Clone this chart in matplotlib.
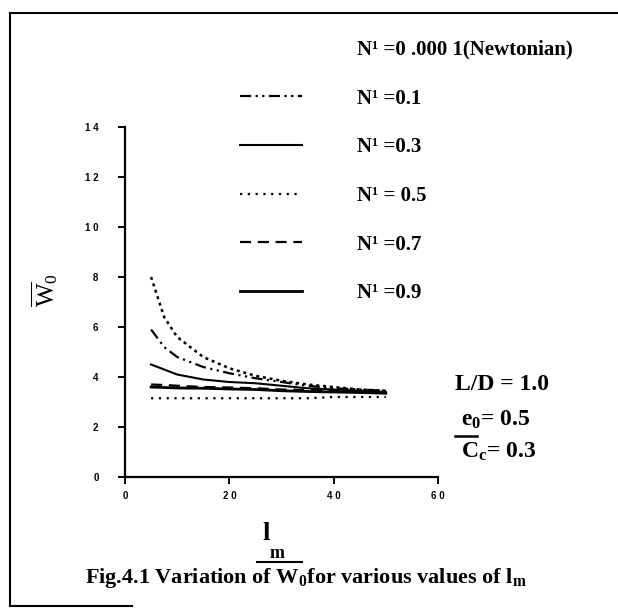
import matplotlib
matplotlib.use('Agg')
from matplotlib import pyplot as plt
from matplotlib.lines import Line2D

plt.rcParams['font.family'] = ['Liberation Serif', 'DejaVu Serif']
plt.rcParams['font.weight'] = 'bold'
plt.rcParams['mathtext.fontset'] = 'custom'
plt.rcParams['mathtext.rm'] = 'Liberation Serif:bold'
plt.rcParams['mathtext.it'] = 'Liberation Serif:bold'
plt.rcParams['mathtext.bf'] = 'Liberation Serif:bold'
plt.rcParams['mathtext.sf'] = 'Liberation Serif:normal'

# data
l_m = [5, 7.5, 10, 15, 20, 25, 30, 35, 40, 45, 50]
w_newtonian = [8.0, 6.4, 5.6, 4.8, 4.35, 4.05, 3.85, 3.7, 3.6, 3.5, 3.45]
w_01 = [5.9, 5.2, 4.8, 4.4, 4.15, 3.95, 3.8, 3.65, 3.55, 3.5, 3.45]
w_03 = [4.5, 4.3, 4.1, 3.9, 3.8, 3.75, 3.65, 3.55, 3.5, 3.45, 3.4]
w_05 = [3.15, 3.15, 3.15, 3.15, 3.15, 3.15, 3.15, 3.15, 3.2, 3.2, 3.2]
w_07 = [3.7, 3.68, 3.65, 3.6, 3.58, 3.55, 3.5, 3.48, 3.45, 3.42, 3.4]
w_09 = [3.6, 3.58, 3.56, 3.55, 3.52, 3.5, 3.45, 3.42, 3.4, 3.38, 3.35]

labels = ['N¹ =0 .000 1(Newtonian)', 'N¹ =0.1', 'N¹ =0.3',
          'N¹ = 0.5', 'N¹ =0.7', 'N¹ =0.9']
xticks = [0, 20, 40, 60]
xticklabels = ['0', '2 0', '4 0', '6 0']
yticks = [0, 2, 4, 6, 8, 10, 12, 14]
yticklabels = ['0', '2', '4', '6', '8', '1 0', '1 2', '1 4']

W, H = 618, 608
fig = plt.figure(figsize=(W / 100, H / 100), dpi=100)
ax = fig.add_axes([125 / W, 1 - 477 / H, (438 - 125) / W, (477 - 127) / H])

l_newt, = ax.plot(l_m, w_newtonian, color='black', lw=1.8, ls=(0, (1.2, 1.5)))
l1, = ax.plot(l_m, w_01, color='black', lw=1.6, ls=(0, (5, 2, 1, 2, 1, 2)))
l3, = ax.plot(l_m, w_03, color='black', lw=1.5, ls='-')
l5, = ax.plot(l_m, w_05, color='black', lw=1.6, ls=(0, (1, 2.5)))
l7, = ax.plot(l_m, w_07, color='black', lw=1.6, ls=(0, (5, 3)))
l9, = ax.plot(l_m, w_09, color='black', lw=2.0, ls='-')

ax.set_xlim(0, 60)
ax.set_ylim(0, 14)
for s in ['top', 'right']:
    ax.spines[s].set_visible(False)
for s in ['left', 'bottom']:
    ax.spines[s].set_linewidth(1.6)
ax.set_xticks(xticks)
ax.set_xticklabels(xticklabels)
ax.set_yticks(yticks)
ax.set_yticklabels(yticklabels)
ax.tick_params(direction='out', length=5, width=1.4, labelsize=7)
ax.tick_params(axis='y', pad=14)
ax.tick_params(axis='x', pad=5)
for t in ax.get_xticklabels() + ax.get_yticklabels():
    t.set_fontfamily('Liberation Sans')
    t.set_fontweight('bold')

blank = Line2D([], [], color='none')
fig.legend([blank, l1, l3, l5, l7, l9], labels, loc='upper left',
           bbox_to_anchor=(221 / W, 1 - 21 / H), frameon=False,
           fontsize=15, handlelength=3.0, handletextpad=2.65,
           labelspacing=1.38)

# y label
fig.text(45 / W, 1 - 290 / H, r'$\overline{\mathsf{W}}_{\mathsf{0}}$', rotation=90,
         ha='center', va='center', fontsize=18)

# x label
fig.text(266 / W, 1 - 534 / H, 'l', ha='center', va='center', fontsize=19)
fig.text(277 / W, 1 - 553 / H, 'm', ha='center', va='center', fontsize=13)
fig.add_artist(Line2D([257 / W, 302 / W], [1 - 562 / H, 1 - 562 / H],
                      color='black', lw=1.5))

# parameters
fig.text(455 / W, 1 - 385 / H, 'L/D = 1.0', ha='left', va='center', fontsize=17)
fig.text(461 / W, 1 - 420 / H, r'e$_0$= 0.5', ha='left', va='center', fontsize=17)
fig.add_artist(Line2D([455 / W, 477 / W], [1 - 436 / H, 1 - 436 / H],
                      color='black', lw=1.8))
fig.text(461 / W, 1 - 452 / H, r'C$_c$= 0.3', ha='left', va='center', fontsize=17)

# caption
fig.text(85 / W, 1 - 578 / H, r'Fig.4.1 Variation of W$_0$for various values of l$_m$',
         ha='left', va='center', fontsize=16)

# frame lines of the scanned page
fig.add_artist(Line2D([10 / W, 1.0], [1 - 13 / H, 1 - 13 / H], color='black', lw=1.5))
fig.add_artist(Line2D([10 / W, 10 / W], [1 - 13 / H, 1 - 606 / H], color='black', lw=1.5))
fig.add_artist(Line2D([10 / W, 132 / W], [1 - 606 / H, 1 - 606 / H], color='black', lw=1.5))

fig.savefig('out.png', dpi=100)
